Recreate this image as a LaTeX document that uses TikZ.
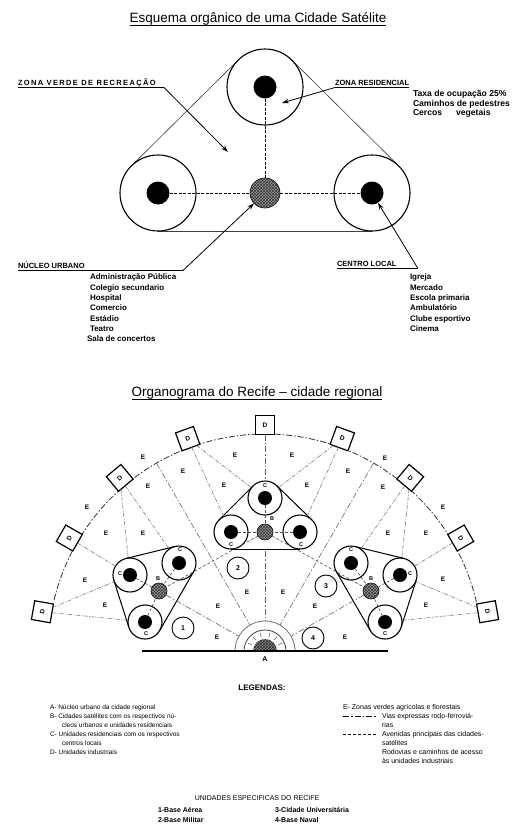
\documentclass[tikz,border=0pt]{standalone}
\usepackage{fontspec}
\setmainfont{Liberation Sans}
\usetikzlibrary{calc,patterns,arrows.meta}
\newcommand\fs[1]{\fontsize{#1}{#1}\selectfont}
\newcommand\hullseg[3]{\draw[hullc] ($(#1)!#3!-90:(#2)$) -- ($(#2)!#3!90:(#1)$);}
\newcommand\hulltop[3]{\draw[hullt] ($(#1)!#3!-90:(#2)$) -- ($(#2)!#3!90:(#1)$);}
\begin{document}
\begin{tikzpicture}[x=1pt,y=-1pt,
 every node/.style={inner sep=0pt, outer sep=0pt},
 bigring/.style={draw, circle, line width=1.1pt, minimum size=76pt},
 bigdot/.style={circle, fill=black, minimum size=23pt},
 hatchdot/.style={circle, draw=black, line width=0.6pt, fill=black!40, postaction={pattern=crosshatch, pattern color=black!80}},
 hullt/.style={line width=0.6pt, draw=black!75},
 hullc/.style={line width=1pt, draw=black},
 arr/.style={line width=0.8pt, -{Stealth[length=7pt,width=4.5pt]}},
 uline/.style={line width=0.7pt},
 caps/.style={font=\fs{7.5}\bfseries, anchor=base west},
 lst/.style={font=\fs{8}\bfseries, anchor=base west},
 ttl/.style={font=\fs{13.5}},
 topdash/.style={line width=0.9pt, dash pattern=on 3pt off 1.5pt},
 cring/.style={draw, circle, line width=1.1pt, minimum size=34pt},
 cdot/.style={circle, fill=black, minimum size=14pt},
 bdot/.style={hatchdot, minimum size=16pt},
 dsq/.style={draw, fill=white, line width=1.2pt, minimum size=19pt, font=\fs{6.5}\bfseries},
 via/.style={draw=black!60, line width=0.6pt, dash pattern=on 6pt off 2pt on 1.5pt off 2pt},
 aven/.style={draw=black!70, line width=0.6pt, dash pattern=on 3pt off 2pt},
 acc/.style={draw=black!55, line width=0.55pt, dash pattern=on 4pt off 1.5pt on 1pt off 1.5pt},
 elab/.style={font=\fs{6.5}\bfseries},
 clab/.style={font=\fs{5.5}\bfseries},
 numc/.style={draw, circle, line width=0.9pt, minimum size=22pt, font=\fs{7}\bfseries},
 leg/.style={font=\fs{6.5}, anchor=base west},
 legr/.style={font=\fs{7}, anchor=base west},
 unid/.style={font=\fs{7}\bfseries, anchor=base west},
]
\useasboundingbox (0,0) rectangle (514,833);
\fill[white] (0,0) rectangle (514,833);

% ================= TOP DIAGRAM =================
\node[ttl] (t1) at (258,19) {Esquema orgânico de uma Cidade Satélite};
\draw[uline] ([yshift=-2.5pt]t1.base west) -- ([yshift=-2.5pt]t1.base east);

\coordinate (pT) at (265,87);
\coordinate (pL) at (158,193);
\coordinate (pR) at (372,193);
\coordinate (pN) at (265,193);
\hulltop{pT}{pL}{38pt}
\hulltop{pL}{pR}{38pt}
\hulltop{pR}{pT}{38pt}
\node[bigring] (T) at (pT) {};
\node[bigring] (L) at (pL) {};
\node[bigring] (R) at (pR) {};
\node[bigdot] (Td) at (pT) {};
\node[bigdot] (Ld) at (pL) {};
\node[bigdot] (Rd) at (pR) {};
\node[hatchdot, minimum size=30pt] (N) at (pN) {};
\draw[topdash] (Td) -- (N);
\draw[topdash] (Ld) -- (N);
\draw[topdash] (N) -- (Rd);

% labels with arrows
\node[caps] (zv) at (18,85) {\addfontfeatures{LetterSpace=18}ZONA VERDE DE RECREAÇÃO};
\coordinate (zve) at (164,87.5);
\coordinate (zvt) at (228,152);
\draw[uline] ([yshift=-2.5pt]zv.base west) -- (zve);
\draw[arr] (zve) -- (zvt);

\node[caps] (zr) at (335,85) {ZONA RESIDENCIAL};
\draw[uline] ([yshift=-2.5pt]zr.base west) -- ([yshift=-2.5pt]zr.base east);
\coordinate (zrt) at (282,103);
\draw[arr] ([yshift=-2.5pt]zr.base west) -- (zrt);
\node[lst, font=\fs{8.6}\bfseries] (zr1) at (413,96) {Taxa de ocupação 25\%};
\node[lst, font=\fs{8.6}\bfseries] (zr2) at (413,106) {Caminhos de pedestres};
\node[lst, font=\fs{8.6}\bfseries] (zr3) at (413,115) {Cercos\hspace{14pt}vegetais};

\node[caps] (nu) at (18,268) {NÚCLEO URBANO};
\coordinate (nue) at (183,270.5);
\draw[uline] ([yshift=-2.5pt]nu.base west) -- (nue);
\draw[arr] (nue) -- (N);
\node[lst] (nu1) at (90,279) {Administração Pública};
\node[lst] (nu2) at (90,290) {Colegio secundario};
\node[lst] (nu3) at (90,300) {Hospital};
\node[lst] (nu4) at (90,310) {Comercio};
\node[lst] (nu5) at (90,321) {Estádio};
\node[lst] (nu6) at (90,331) {Teatro};
\node[lst] (nu7) at (87,341) {Sala de concertos};

\node[caps] (cloc) at (337,266) {CENTRO LOCAL};
\coordinate (cle) at (418,268.5);
\draw[uline] ([yshift=-2.5pt]cloc.base west) -- (cle);
\draw[arr] (cle) -- (Rd);
\node[lst] (cl1) at (410,279) {Igreja};
\node[lst] (cl2) at (410,290) {Mercado};
\node[lst] (cl3) at (410,300) {Escola primaria};
\node[lst] (cl4) at (410,310) {Ambulatório};
\node[lst] (cl5) at (410,321) {Clube esportivo};
\node[lst] (cl6) at (410,331) {Cinema};

% ================= BOTTOM DIAGRAM =================
\node[ttl] (t2) at (257,393) {Organograma do Recife – cidade regional};
\draw[uline] ([yshift=-2.5pt]t2.base west) -- ([yshift=-2.5pt]t2.base east);

\coordinate (A) at (265,651);
% outer arc
\draw[via, draw=black!80, line width=0.8pt] ($(A)+(13:217pt)$) arc[start angle=13, end angle=167, radius=217pt];

% cluster coordinates
\foreach \nm/\p in {Ct/{265,498}, Cl/{231,532}, Cr/{300,532}, Lu/{179,563}, Ll/{130,575}, Lb/{145,622}, Ru/{351,563}, Rr/{400,575}, Rb/{385,622}} {
  \coordinate (p\nm) at (\p);
}
\coordinate (pBt) at (265,532);
\coordinate (pBl) at (159,591);
\coordinate (pBr) at (371,591);

% D squares
\foreach \a/\n in {10/1,30/2,50/3,70/4,90/5,110/6,130/7,150/8,170/9}
  \node[dsq, rotate=\a-90] (D\n) at ($(A)+(\a:226pt)$) {D};

% rings and dots
\foreach \nm in {Ct,Cl,Cr,Lu,Ll,Lb,Ru,Rr,Rb} {
  \node[cring] (\nm) at (p\nm) {};
  \node[cdot] (d\nm) at (p\nm) {};
}
\node[bdot] (Bt) at (pBt) {};
\node[bdot] (Bl) at (pBl) {};
\node[bdot] (Br) at (pBr) {};

% hulls
\hullseg{pCt}{pCl}{17pt}
\hullseg{pCl}{pCr}{17pt}
\hullseg{pCr}{pCt}{17pt}
\hullseg{pLu}{pLl}{17pt}
\hullseg{pLl}{pLb}{17pt}
\hullseg{pLb}{pLu}{17pt}
\hullseg{pRu}{pRb}{17pt}
\hullseg{pRb}{pRr}{17pt}
\hullseg{pRr}{pRu}{17pt}

% A: urban core of the regional city
\draw[black!55, line width=0.8pt] ($(A)+(30pt,0pt)$) arc[start angle=0, end angle=180, radius=30pt];
\draw[black!75, line width=0.8pt] ($(A)+(21pt,0pt)$) arc[start angle=0, end angle=180, radius=21pt];
\path[fill=black!45, postaction={pattern=crosshatch, pattern color=black!85}] ($(A)+(12pt,0pt)$) arc[start angle=0, end angle=180, radius=12pt] -- cycle;
\foreach \a in {25,50,75,105,130,155}
  \draw[black!60, line width=0.6pt] ($(A)+(\a:14.5pt)$) -- ($(A)+(\a:18.5pt)$);
\coordinate (bl) at (142,651);
\coordinate (br) at (388,651);
\draw[line width=1.4pt] (bl) -- (br);
\node[font=\fs{7}\bfseries] (Alab) at (265,659) {A};

% expressways (dash-dot)
\coordinate (a120) at ($(A)+(120:217pt)$);
\coordinate (a60) at ($(A)+(60:217pt)$);
\coordinate (A120) at ($(A)+(120:30pt)$);
\coordinate (A60) at ($(A)+(60:30pt)$);
\coordinate (A90) at ($(A)+(90:30pt)$);
\coordinate (tb) at (265,551);
\coordinate (ABl) at ($(A)!30pt!(pBl)$);
\coordinate (ABr) at ($(A)!30pt!(pBr)$);
\draw[via] (a120) -- (A120);
\draw[via] (a60) -- (A60);
\draw[via] (D5) -- (Ct);
\draw[via] (tb) -- (A90);
\draw[via] (Bl) -- (ABl);
\draw[via] (Br) -- (ABr);

% main avenues of satellite cities
\draw[aven] (Bt) -- (Bl);
\draw[aven] (Bt) -- (Br);
\foreach \c in {Ct,Cl,Cr} \draw[aven] (d\c) -- (Bt);
\foreach \c in {Lu,Ll,Lb} \draw[aven] (d\c) -- (Bl);
\foreach \c in {Ru,Rr,Rb} \draw[aven] (d\c) -- (Br);

% access roads to industrial units
\draw[acc] (D6) -- (Ct);
\draw[acc] (D6) -- (Cl);
\draw[acc] (D4) -- (Ct);
\draw[acc] (D4) -- (Cr);
\draw[acc] (D7) -- (Ll);
\draw[acc] (D7) -- (Lu);
\draw[acc] (D8) -- (Ll);
\draw[acc] (D9) -- (Ll);
\draw[acc] (D9) -- (Lb);
\draw[acc] (D3) -- (Rr);
\draw[acc] (D3) -- (Ru);
\draw[acc] (D2) -- (Rr);
\draw[acc] (D1) -- (Rr);
\draw[acc] (D1) -- (Rb);

% C and B labels
\node[clab] (lCt) at (265,486) {C};
\node[clab] (lCl) at (231,545) {C};
\node[clab] (lCr) at (301,545) {C};
\node[clab] (lBt) at (272,519) {B};
\node[clab] (lLu) at (180,550) {C};
\node[clab] (lLl) at (120,574) {C};
\node[clab] (lLb) at (146,634) {C};
\node[clab] (lBl) at (158,579) {B};
\node[clab] (lRu) at (351,550) {C};
\node[clab] (lRr) at (410,574) {C};
\node[clab] (lRb) at (385,634) {C};
\node[clab] (lBr) at (371,579) {B};

% numbered specific units
\node[numc] (n1) at (183,628) {1};
\node[numc] (n2) at (238,568) {2};
\node[numc] (n3) at (326,586) {3};
\node[numc] (n4) at (313,638) {4};

% green zones
\foreach \p [count=\i] in {{143,457},{235,455},{292,455},{385,458},{183,471},{348,471},{148,486},{224,485},{307,485},{383,487},{87,507},{443,507},{106,533},{143,533},{388,533},{426,533},{85,580},{443,579},{105,605},{426,605},{247,592},{283,592},{218,606},{315,606},{217,637},{345,637}}
  \node[elab] (E\i) at (\p) {E};

% ================= LEGEND =================
\node[font=\fs{8}\bfseries] (legt) at (262,688) {LEGENDAS:};
\node[leg] (la) at (50,709) {A- Núcleo urbano da cidade regional};
\node[leg] (lb) at (50,718) {B- Cidades satélites com os respectivos nú-};
\node[leg] (lb2) at (62,727) {cleos urbanos e unidades residenciais};
\node[leg] (lc) at (50,736) {C- Unidades residenciais com os respectivos};
\node[leg] (lc2) at (62,745) {centros locais};
\node[leg] (ld) at (50,754) {D- Unidades industriais};

\node[legr] (le) at (343,709) {E- Zonas verdes agrícolas e florestais};
\coordinate (s1a) at (343,716);
\coordinate (s1b) at (377,716);
\draw[via, draw=black] (s1a) -- (s1b);
\node[legr] (lv) at (382,718) {Vias expressas rodo-ferroviá-};
\node[legr] (lv2) at (382,727) {rias};
\coordinate (s2a) at (343,734);
\coordinate (s2b) at (377,734);
\draw[aven, draw=black] (s2a) -- (s2b);
\node[legr] (lav) at (382,736) {Avenidas principais das cidades-};
\node[legr] (lav2) at (382,745) {satélites};
\node[legr] (lr) at (382,754) {Rodovias e caminhos de acesso};
\node[legr] (lr2) at (382,763) {às unidades industriais};

\node[font=\fs{7}, anchor=base] (ue) at (257,800) {UNIDADES ESPECIFICAS DO RECIFE};
\node[unid] (u1) at (158,812) {1-Base Aérea};
\node[unid] (u2) at (158,822) {2-Base Militar};
\node[unid] (u3) at (275,812) {3-Cidade Universitária};
\node[unid] (u4) at (275,822) {4-Base Naval};
\end{tikzpicture}
\end{document}
